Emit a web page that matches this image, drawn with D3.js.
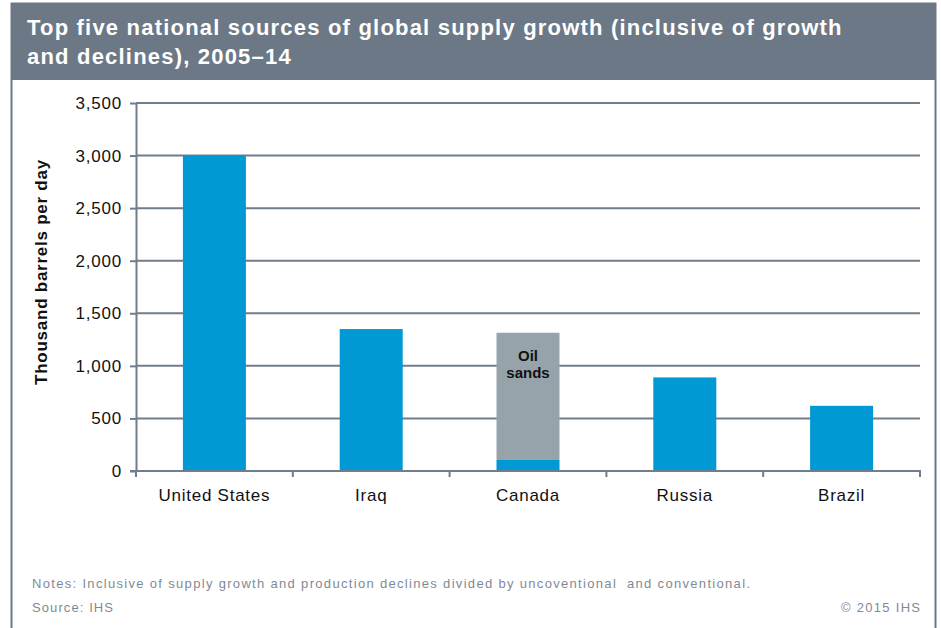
<!DOCTYPE html>
<html>
<head>
<meta charset="utf-8">
<script src="https://cdn.jsdelivr.net/npm/d3@7/dist/d3.min.js"></script>
<style>
  html, body { margin: 0; padding: 0; background: #fff; }
  svg { display: block; font-family: "Liberation Sans", Arial, sans-serif; }
</style>
</head>
<body>
<svg id="chart" width="941" height="628"></svg>
<script>
// Supply growth 2005–14, thousand barrels per day
const countries = ["United States", "Iraq", "Canada", "Russia", "Brazil"];
const conventional = [3000, 1350, 105, 890, 620];
const oilSands = [0, 0, 1210, 0, 0];
const yTicks = [0, 500, 1000, 1500, 2000, 2500, 3000, 3500];

const titleLines = [
  "Top five national sources of global supply growth (inclusive of growth",
  "and declines), 2005\u201314"
];
const notesText = "Notes: Inclusive of supply growth and production declines divided by uncoventional  and conventional.";
const sourceText = "Source: IHS";
const copyrightText = "\u00a9 2015 IHS";

const C = {
  band: "#6c7885",
  axis: "#717d8a",
  blue: "#0099d4",
  sands: "#97a3ab",
  note: "#7f8a95"
};

const svg = d3.select("#chart");

// Frame and title band
svg.append("rect").attr("x", 11.5).attr("y", 3.5).attr("width", 924).attr("height", 640)
  .attr("fill", "#fff").attr("stroke", C.band).attr("stroke-width", 2);
svg.append("rect").attr("x", 11).attr("y", 3).attr("width", 925).attr("height", 77)
  .attr("fill", C.band);
svg.append("text").attr("x", 27).attr("y", 35)
  .attr("fill", "#fff").attr("font-size", 22).attr("font-weight", "bold")
  .attr("letter-spacing", 1.2)
  .selectAll("tspan").data(titleLines).join("tspan")
  .attr("x", 27).attr("dy", (d, i) => i ? 29 : 0).text(d => d);

// Scales
const x = d3.scaleBand().domain(countries).range([136, 920]).paddingInner(0).paddingOuter(0);
const y = d3.scaleLinear().domain([0, 3500]).range([471, 103]);
const barW = 63;

// Gridlines
svg.append("g").selectAll("line").data(yTicks.filter(d => d > 0)).join("line")
  .attr("x1", 136).attr("x2", 920)
  .attr("y1", d => y(d)).attr("y2", d => y(d))
  .attr("stroke", C.axis).attr("stroke-width", 2);

// Bars: conventional (blue) then oil sands stacked above
const g = svg.append("g");
g.selectAll("rect.conv").data(countries).join("rect").attr("class", "conv")
  .attr("x", d => x(d) + x.bandwidth() / 2 - barW / 2)
  .attr("width", barW)
  .attr("y", (d, i) => y(conventional[i]))
  .attr("height", (d, i) => y(0) - y(conventional[i]))
  .attr("fill", C.blue);
g.selectAll("rect.sands").data(countries.filter((d, i) => oilSands[i] > 0)).join("rect").attr("class", "sands")
  .attr("x", d => x(d) + x.bandwidth() / 2 - barW / 2)
  .attr("width", barW)
  .attr("y", d => { const i = countries.indexOf(d); return y(conventional[i] + oilSands[i]); })
  .attr("height", d => { const i = countries.indexOf(d); return y(conventional[i]) - y(conventional[i] + oilSands[i]); })
  .attr("fill", C.sands);

// Oil sands label
const ci = countries.indexOf("Canada");
svg.append("text")
  .attr("x", x("Canada") + x.bandwidth() / 2)
  .attr("y", y(conventional[ci] + oilSands[ci]) + 28)
  .attr("text-anchor", "middle").attr("font-size", 15).attr("font-weight", "bold").attr("fill", "#111")
  .selectAll("tspan").data(["Oil", "sands"]).join("tspan")
  .attr("x", x("Canada") + x.bandwidth() / 2).attr("dy", (d, i) => i ? 17 : 0).text(d => d);

// Y axis
const yAxis = svg.append("g").attr("transform", "translate(136,0)")
  .call(d3.axisLeft(y).tickValues(yTicks).tickSize(6).tickSizeOuter(0).tickPadding(8)
    .tickFormat(d3.format(",")));
yAxis.select(".domain").attr("stroke", C.axis).attr("stroke-width", 2);
yAxis.selectAll(".tick line").attr("stroke", C.axis).attr("stroke-width", 2);
yAxis.selectAll(".tick text").attr("font-size", 17).attr("fill", "#111")
  .attr("letter-spacing", 0.8)
  .attr("font-family", "Liberation Sans, Arial, sans-serif");

// X axis with boundary ticks between categories
const xAxis = svg.append("g").attr("transform", "translate(0,471)");
xAxis.append("line").attr("x1", 130).attr("x2", 921).attr("y1", 0).attr("y2", 0)
  .attr("stroke", C.axis).attr("stroke-width", 2);
const bounds = countries.map(d => x(d)).concat([x.range()[1]]);
xAxis.selectAll("line.bt").data(bounds).join("line").attr("class", "bt")
  .attr("x1", d => d).attr("x2", d => d).attr("y1", 0).attr("y2", 6)
  .attr("stroke", C.axis).attr("stroke-width", 2);
xAxis.selectAll("text").data(countries).join("text")
  .attr("x", d => x(d) + x.bandwidth() / 2).attr("y", 30)
  .attr("text-anchor", "middle").attr("font-size", 17).attr("letter-spacing", 0.75).attr("fill", "#111")
  .text(d => d);

// Y axis title
svg.append("text")
  .attr("transform", "translate(47,272) rotate(-90)")
  .attr("text-anchor", "middle").attr("font-size", 17).attr("font-weight", "bold").attr("fill", "#111")
  .attr("letter-spacing", 0.75)
  .text("Thousand barrels per day");

// Notes and source
svg.append("text").attr("x", 32).attr("y", 588).attr("font-size", 13).attr("fill", C.note)
  .attr("textLength", 718).attr("lengthAdjust", "spacing").attr("xml:space", "preserve").text(notesText);
svg.append("text").attr("x", 32).attr("y", 612).attr("font-size", 13).attr("fill", C.note)
  .attr("textLength", 81).attr("lengthAdjust", "spacing").text(sourceText);
svg.append("text").attr("x", 841).attr("y", 612).attr("font-size", 13).attr("fill", C.note)
  .attr("textLength", 79).attr("lengthAdjust", "spacing").text(copyrightText);
</script>
</body>
</html>
